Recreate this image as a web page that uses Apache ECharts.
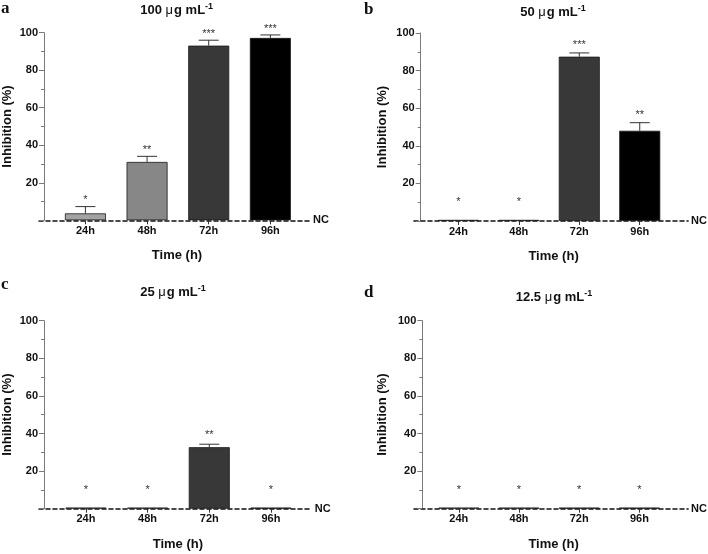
<!DOCTYPE html>
<html><head><meta charset="utf-8">
<script src="https://cdn.jsdelivr.net/npm/echarts@6/dist/echarts.min.js"></script>
<style>html,body{margin:0;padding:0;background:#fff}#c{width:708px;height:554px}</style>
</head><body><div id="c"></div>
<script>
// ---- data ----
const categories = ['24h', '48h', '72h', '96h'];
const panelLetters = ['a', 'b', 'c', 'd'];
const concentrations = ['100', '50', '25', '12.5'];
const valuesA = [3.7, 31.1, 93.1, 97.2];
const errorsA = [3.6, 3.0, 2.9, 1.6];
const valuesB = [0.6, 0.6, 87.4, 48.0];
const errorsB = [0, 0, 2.0, 4.3];
const valuesC = [0.6, 0.6, 32.7, 0.6];
const errorsC = [0, 0, 1.6, 0];
const valuesD = [0.6, 0.6, 0.6, 0.6];
const errorsD = [0, 0, 0, 0];
const starsA = ['*', '**', '***', '***'];
const starsB = ['*', '*', '***', '**'];
const starsC = ['*', '*', '**', '*'];
const starsD = ['*', '*', '*', '*'];
const starYA = [11.9, 38.4, 100.2, 103.3];
const starYB = [11.2, 11.2, 94.5, 57.6];
const starYC = [11.2, 11.2, 40.4, 11.2];
const starYD = [11.2, 11.2, 11.2, 11.2];

const values = [valuesA, valuesB, valuesC, valuesD];
const errors = [errorsA, errorsB, errorsC, errorsD];
const stars = [starsA, starsB, starsC, starsD];
const starY = [starYA, starYB, starYC, starYD];

// ---- layout / style ----
const barColors = ['#a3a3a3', '#878787', '#383838', '#000000'];
const FONT = '"Liberation Sans", Arial, sans-serif';
const layout = [
  {left: 38, top: 32.7, width: 272, height: 187.6, xmin: -0.753, xmax: 3.643, yOff: -5, nameGap: 30, titleX: 176.7, titleY: 2, letterX: 1, letterY: 0},
  {left: 414, top: 33, width: 283, height: 188, xmin: -0.734, xmax: 3.80, yOff: -6.7, nameGap: 32, titleX: 553, titleY: 4, letterX: 364, letterY: 1},
  {left: 38, top: 320.7, width: 273.7, height: 188, xmin: -0.76, xmax: 3.66, yOff: -5, nameGap: 30, titleX: 173, titleY: 284, letterX: 1, letterY: 276},
  {left: 414, top: 320.7, width: 283, height: 188, xmin: -0.745, xmax: 3.81, yOff: -8.3, nameGap: 33, titleX: 554, titleY: 289, letterX: 364, letterY: 284}
];

const grid = [], xAxis = [], yAxis = [], series = [], title = [];
layout.forEach((L, i) => {
  grid.push({left: L.left, top: L.top, width: L.width, height: L.height, containLabel: false});
  xAxis.push({
    type: 'value', gridIndex: i, min: L.xmin, max: L.xmax,
    name: 'Time (h)', nameLocation: 'middle', nameGap: 29,
    nameTextStyle: {fontFamily: FONT, fontWeight: 'bold', fontSize: 13, color: '#111', padding: [0, 0, 0, 5]},
    axisLine: {show: true, onZero: false, lineStyle: {color: '#111', width: 1.6, type: [4, 3]}},
    axisTick: {show: true, customValues: [0, 1, 2, 3], length: 4, lineStyle: {color: '#333', width: 1}},
    axisLabel: {show: true, customValues: [0, 1, 2, 3], formatter: v => categories[Math.round(v)],
      fontFamily: FONT, fontWeight: 'bold', fontSize: 11, color: '#111', margin: 5},
    splitLine: {show: false}
  });
  xAxis.push({
    type: 'value', gridIndex: i, min: L.xmin, max: L.xmax, position: 'bottom',
    name: 'NC', nameLocation: 'end', nameGap: 3,
    nameTextStyle: {fontFamily: FONT, fontWeight: 'bold', fontSize: 11, color: '#111', verticalAlign: 'middle', align: 'left'},
    axisLine: {show: false, onZero: false}, axisTick: {show: false}, axisLabel: {show: false}, splitLine: {show: false}
  });
  yAxis.push({
    type: 'value', gridIndex: i, min: 0, max: 100, interval: 20, offset: L.yOff, position: 'left',
    name: 'Inhibition (%)', nameLocation: 'middle', nameGap: L.nameGap, nameRotate: 90,
    nameTextStyle: {fontFamily: FONT, fontWeight: 'bold', fontSize: 13, color: '#111'},
    axisLine: {show: true, onZero: false, lineStyle: {color: '#7a7a7a', width: 1}},
    axisTick: {show: true, length: 5, lineStyle: {color: '#7a7a7a'}},
    minorTick: {show: true, splitNumber: 2, length: 3, lineStyle: {color: '#7a7a7a'}},
    axisLabel: {formatter: v => (v === 0 ? '' : String(v)), fontFamily: FONT, fontWeight: 'bold', fontSize: 11, color: '#111', margin: 6},
    splitLine: {show: false}
  });
  const vals = values[i], errs = errors[i];
  series.push({
    type: 'bar', xAxisIndex: 2 * i, yAxisIndex: i, barWidth: 41, z: 2,
    data: vals.map((v, k) => ({value: [k, v], itemStyle: {color: barColors[k], borderColor: '#1a1a1a', borderWidth: 0.8}})),
    silent: true
  });
  series.push({
    type: 'custom', xAxisIndex: 2 * i, yAxisIndex: i, z: 3, silent: true,
    data: vals.map((v, k) => [k, v, errs[k]]),
    renderItem: (params, api) => {
      const x = api.value(0), v = api.value(1), e = api.value(2);
      if (!e) return {type: 'group', children: []};
      const b = api.coord([x, v]), t = api.coord([x, v + e]);
      const st = {stroke: '#333', lineWidth: 1};
      return {type: 'group', children: [
        {type: 'line', shape: {x1: b[0], y1: b[1], x2: t[0], y2: t[1]}, style: st},
        {type: 'line', shape: {x1: t[0] - 10, y1: t[1], x2: t[0] + 10, y2: t[1]}, style: st}
      ]};
    }
  });
  const sy = starY[i], sl = stars[i];
  series.push({
    type: 'custom', xAxisIndex: 2 * i, yAxisIndex: i, z: 4, silent: true,
    data: sy.map((y, k) => [k, y]),
    renderItem: (params, api) => {
      const p = api.coord([api.value(0), api.value(1)]);
      return {type: 'text', x: p[0], y: p[1] + 2,
        style: {text: sl[params.dataIndex], fontFamily: FONT, fontSize: 11, fill: '#333', align: 'center', verticalAlign: 'middle'}};
    }
  });
  title.push({
    text: '{n|' + concentrations[i] + ' }{mu|μ}{n|g mL}{sup|-1}',
    left: L.titleX, top: L.titleY, textAlign: 'center', padding: 0,
    textStyle: {rich: {
      n: {fontFamily: FONT, fontWeight: 'bold', fontSize: 13, color: '#111', lineHeight: 16},
      mu: {fontFamily: FONT, fontWeight: 'normal', fontSize: 13, color: '#111', lineHeight: 16, padding: [0, 1, 0, 0]},
      sup: {fontFamily: FONT, fontWeight: 'bold', fontSize: 9, color: '#111', lineHeight: 16, verticalAlign: 'top'}
    }}
  });
  title.push({
    text: panelLetters[i], left: L.letterX, top: L.letterY, padding: 0,
    textStyle: {fontFamily: '"Liberation Serif", "DejaVu Serif", serif', fontWeight: 'bold', fontSize: 17, color: '#111'}
  });
});

const chart = echarts.init(document.getElementById('c'), null, {renderer: 'canvas'});
chart.setOption({animation: false, backgroundColor: '#fff', title, grid, xAxis, yAxis, series});
</script>
</body></html>
